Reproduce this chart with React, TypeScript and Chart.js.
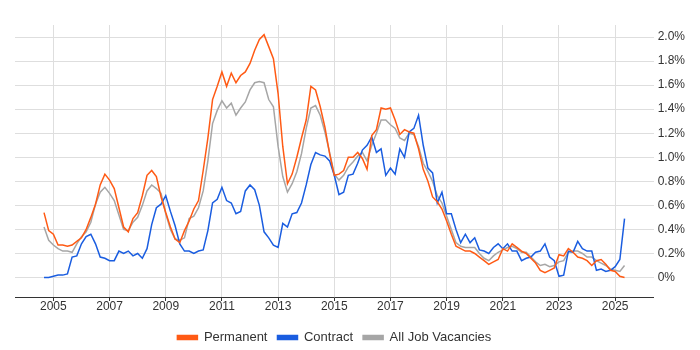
import { useEffect, useRef } from 'react';
import { Chart, registerables } from 'chart.js';

Chart.register(...registerables);

// first data point (decimal year) and spacing (two months)
const START_YEAR = 2004.667;
const STEP = 1 / 6;

const xTickYears = [2005, 2007, 2009, 2011, 2013, 2015, 2017, 2019, 2021, 2023, 2025];
const yTickValues = [0, 0.2, 0.4, 0.6, 0.8, 1.0, 1.2, 1.4, 1.6, 1.8, 2.0];

const permanent = [
  0.54, 0.39, 0.36, 0.27, 0.27, 0.26, 0.27, 0.30, 0.33, 0.40,
  0.50, 0.61, 0.77, 0.86, 0.81, 0.74, 0.58, 0.42, 0.38, 0.49,
  0.54, 0.68, 0.85, 0.89, 0.84, 0.67, 0.54, 0.42, 0.32, 0.29,
  0.39, 0.47, 0.57, 0.64, 0.89, 1.16, 1.48, 1.59, 1.71, 1.59,
  1.70, 1.62, 1.68, 1.71, 1.78, 1.89, 1.98, 2.02, 1.92, 1.82,
  1.53, 1.09, 0.78, 0.86, 1.00, 1.16, 1.31, 1.59, 1.56, 1.42,
  1.25, 1.03, 0.85, 0.86, 0.89, 1.00, 1.00, 1.04, 0.99, 0.90,
  1.18, 1.23, 1.41, 1.40, 1.41, 1.31, 1.19, 1.23, 1.21, 1.20,
  1.07, 0.90, 0.80, 0.67, 0.63, 0.57, 0.47, 0.36, 0.26, 0.24,
  0.22, 0.22, 0.20, 0.17, 0.14, 0.11, 0.13, 0.15, 0.24, 0.22,
  0.28, 0.25, 0.22, 0.20, 0.16, 0.12, 0.06, 0.04, 0.06, 0.08,
  0.19, 0.18, 0.24, 0.21, 0.17, 0.16, 0.14, 0.10, 0.14, 0.15,
  0.11, 0.06, 0.05, 0.01, 0.00,
];

const contract = [
  0.00, 0.00, 0.01, 0.02, 0.02, 0.03, 0.17, 0.18, 0.28, 0.34,
  0.36, 0.28, 0.17, 0.16, 0.14, 0.14, 0.22, 0.20, 0.22, 0.18,
  0.20, 0.16, 0.24, 0.44, 0.58, 0.61, 0.68, 0.55, 0.43, 0.28,
  0.22, 0.22, 0.20, 0.22, 0.23, 0.39, 0.62, 0.65, 0.75, 0.64,
  0.62, 0.53, 0.55, 0.72, 0.77, 0.73, 0.60, 0.38, 0.33, 0.27,
  0.25, 0.45, 0.42, 0.53, 0.54, 0.62, 0.77, 0.94, 1.04, 1.02,
  1.01, 0.97, 0.85, 0.69, 0.71, 0.85, 0.86, 0.95, 1.06, 1.10,
  1.17, 1.04, 1.07, 0.85, 0.91, 0.86, 1.07, 1.00, 1.21, 1.24,
  1.35, 1.10, 0.91, 0.87, 0.62, 0.71, 0.53, 0.53, 0.40, 0.29,
  0.36, 0.29, 0.33, 0.23, 0.22, 0.20, 0.25, 0.28, 0.24, 0.28,
  0.22, 0.22, 0.14, 0.16, 0.17, 0.21, 0.22, 0.28, 0.17, 0.14,
  0.01, 0.02, 0.22, 0.21, 0.30, 0.24, 0.22, 0.22, 0.06, 0.07,
  0.05, 0.06, 0.09, 0.15, 0.49,
];

const allJobVacancies = [
  0.42, 0.31, 0.27, 0.24, 0.22, 0.22, 0.21, 0.28, 0.34, 0.38,
  0.46, 0.61, 0.71, 0.75, 0.70, 0.64, 0.52, 0.40, 0.39, 0.46,
  0.50, 0.60, 0.72, 0.77, 0.74, 0.70, 0.53, 0.40, 0.32, 0.31,
  0.33, 0.49, 0.51, 0.58, 0.72, 0.97, 1.28, 1.39, 1.47, 1.41,
  1.45, 1.35, 1.41, 1.46, 1.56, 1.62, 1.63, 1.62, 1.48, 1.42,
  1.09, 0.84, 0.71, 0.78, 0.88, 1.03, 1.24, 1.41, 1.43, 1.35,
  1.21, 1.04, 0.86, 0.81, 0.85, 0.92, 0.96, 1.01, 1.04, 0.97,
  1.10, 1.20, 1.31, 1.31, 1.27, 1.24, 1.16, 1.14, 1.20, 1.19,
  1.09, 0.95, 0.88, 0.80, 0.68, 0.62, 0.51, 0.40, 0.29, 0.26,
  0.25, 0.25, 0.25, 0.20, 0.16, 0.14, 0.18, 0.21, 0.23, 0.25,
  0.26, 0.24, 0.21, 0.21, 0.17, 0.13, 0.10, 0.11, 0.09, 0.10,
  0.13, 0.14, 0.21, 0.22, 0.22, 0.20, 0.17, 0.17, 0.14, 0.12,
  0.10, 0.07, 0.06, 0.05, 0.10,
];

const FONT = '"Liberation Sans", Arial, sans-serif';

// centre the legend under the plot area and nudge it down a little
const legendPlacement = {
  id: 'legendPlacement',
  afterLayout(chart: any) {
    const lg = chart.legend;
    const area = chart.chartArea;
    if (!lg || !area) return;
    const dx = (area.left + area.right) / 2 - (lg.left + lg.right) / 2;
    lg.left += dx;
    lg.right += dx;
    lg.top += 4;
    lg.bottom += 4;
  },
};

export default function App() {
  const ref = useRef<HTMLCanvasElement>(null);

  useEffect(() => {
    if (!ref.current) return;
    const toPoints = (arr: number[]) => arr.map((v, i) => ({ x: START_YEAR + i * STEP, y: v }));
    const mk = (label: string, arr: number[], color: string) => ({
      label,
      data: toPoints(arr),
      borderColor: color,
      backgroundColor: color,
      borderWidth: 1.5,
      pointRadius: 0,
      tension: 0,
      fill: false,
    });
    const chart = new Chart(ref.current, {
      type: 'line',
      data: {
        datasets: [
          mk('Permanent', permanent, '#ff5a14'),
          mk('Contract', contract, '#1a5de0'),
          mk('All Job Vacancies', allJobVacancies, '#a6a6a6'),
        ],
      },
      plugins: [legendPlacement],
      options: {
        animation: false,
        responsive: true,
        maintainAspectRatio: false,
        layout: { padding: { left: 15, right: 11, top: 25, bottom: 0 } },
        plugins: {
          legend: {
            position: 'bottom',
            labels: {
              boxWidth: 20,
              boxHeight: 4,
              padding: 10,
              color: '#333',
              font: { family: FONT, size: 13 },
            },
          },
          tooltip: { enabled: false },
        },
        scales: {
          x: {
            type: 'linear',
            min: 2003.634,
            max: 2026.37,
            afterBuildTicks: (s: any) => {
              s.ticks = xTickYears.map((v) => ({ value: v }));
            },
            afterFit: (s: any) => {
              s.height = 20;
            },
            ticks: {
              callback: (v: any) => String(v),
              color: '#333',
              font: { family: FONT, size: 12 },
              padding: -2,
              maxRotation: 0,
              autoSkip: false,
            },
            grid: { color: '#dedede', tickColor: '#333', tickLength: 4, drawTicks: true },
            border: { display: true, color: '#333' },
          },
          y: {
            position: 'right',
            min: -0.162,
            max: 2.1,
            afterBuildTicks: (s: any) => {
              s.ticks = yTickValues.map((v) => ({ value: v }));
            },
            ticks: {
              callback: (v: any) => (v === 0 ? '0%' : Number(v).toFixed(1) + '%'),
              color: '#333',
              font: { family: FONT, size: 12 },
              padding: 4,
            },
            grid: { color: '#dedede', drawTicks: false },
            border: { display: false },
          },
        },
      },
    });
    return () => chart.destroy();
  }, []);

  return (
    <div style={{ position: 'fixed', left: 0, top: 0, width: 700, height: 350 }}>
      <canvas ref={ref} />
    </div>
  );
}
